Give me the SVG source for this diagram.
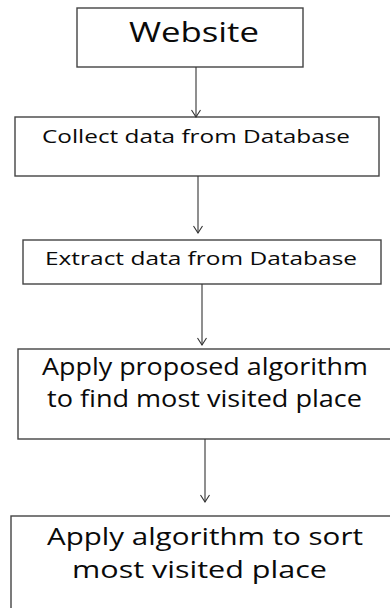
<svg xmlns="http://www.w3.org/2000/svg" width="390" height="608" viewBox="0 0 390 608">
  <defs>
    <!-- open chevron head, drawn along +x so orient="auto" turns it with the line -->
    <marker id="arrow" viewBox="-1 -1 10 11" refX="7" refY="4.5" markerWidth="10" markerHeight="11" markerUnits="userSpaceOnUse" orient="auto">
      <path d="M0 0 L7 4.5 L0 9" fill="none" stroke="#333" stroke-width="1.1"/>
    </marker>
    <style>
      .box { fill: #fff; stroke: #444; stroke-width: 1.4; }
      .lbl { font-family: "Open Sans", "DejaVu Sans", sans-serif; fill: #0a0a0a; }
      .edge { stroke: #333; stroke-width: 1.1; fill: none; }
    </style>
  </defs>
  <rect width="390" height="608" fill="#fff"/>

  <g id="website">
    <rect class="box" x="77" y="8" width="226" height="59"/>
    <text class="lbl" x="129" y="42" font-size="27" textLength="130" lengthAdjust="spacingAndGlyphs">Website</text>
  </g>

  <g id="collect">
    <rect class="box" x="15" y="117" width="364" height="59"/>
    <text class="lbl" x="42" y="143" font-size="19" textLength="308" lengthAdjust="spacingAndGlyphs">Collect data from Database</text>
  </g>

  <g id="extract">
    <rect class="box" x="23" y="240" width="358" height="44"/>
    <text class="lbl" x="45" y="265" font-size="18" textLength="312" lengthAdjust="spacingAndGlyphs">Extract data from Database</text>
  </g>

  <g id="find">
    <rect class="box" x="18" y="349" width="374" height="90"/>
    <text class="lbl" x="42" y="375" font-size="23" textLength="326" lengthAdjust="spacingAndGlyphs">Apply proposed algorithm</text>
    <text class="lbl" x="47" y="407" font-size="23" textLength="315" lengthAdjust="spacingAndGlyphs">to find most visited place</text>
  </g>

  <g id="sort">
    <rect class="box" x="11" y="516" width="383" height="100"/>
    <text class="lbl" x="47" y="545" font-size="23" textLength="316" lengthAdjust="spacingAndGlyphs">Apply algorithm to sort</text>
    <text class="lbl" x="72" y="578" font-size="23" textLength="255" lengthAdjust="spacingAndGlyphs">most visited place</text>
  </g>

  <g id="connectors">
    <line class="edge" x1="196" y1="67" x2="196" y2="117" marker-end="url(#arrow)"/>
    <line class="edge" x1="198" y1="176" x2="198" y2="233" marker-end="url(#arrow)"/>
    <line class="edge" x1="202" y1="284" x2="202" y2="345" marker-end="url(#arrow)"/>
    <line class="edge" x1="205" y1="439" x2="205" y2="502" marker-end="url(#arrow)"/>
  </g>
</svg>
